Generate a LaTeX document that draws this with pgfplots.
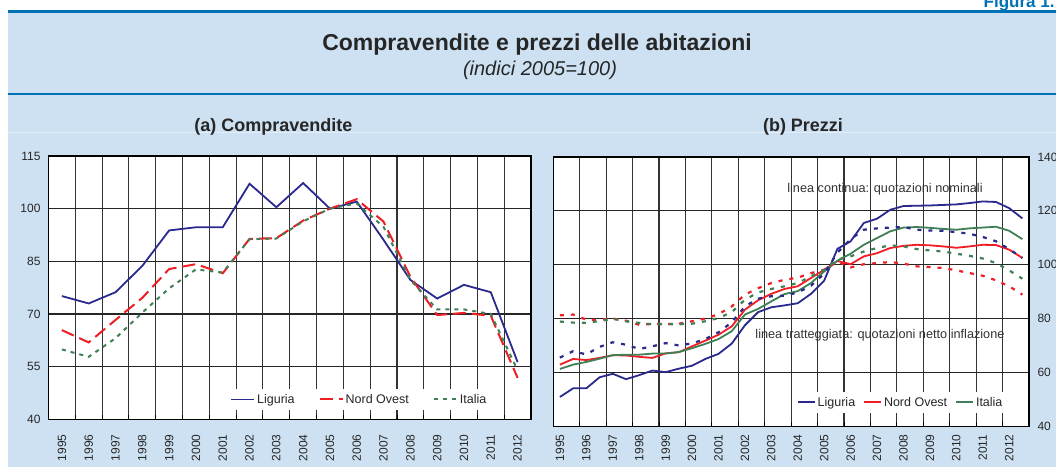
\documentclass[border=0pt]{standalone}
\usepackage{fontspec}
\setmainfont{Liberation Sans}
\usepackage{pgfplots}
\usepackage{pgfplotstable}
\pgfplotsset{compat=1.18}

\definecolor{bdiBlue}{RGB}{0,114,182}
\definecolor{bgBlue}{RGB}{206,225,242}
\definecolor{ligCol}{RGB}{42,42,142}
\definecolor{noCol}{RGB}{238,30,36}
\definecolor{itCol}{RGB}{64,128,86}

% (a) compravendite, annual
\pgfplotstableread{
anno lig  nord  ita
1995 75.1 65.4 59.9
1996 73.0 61.9 57.8
1997 76.2 68.3 63.1
1998 83.7 74.6 70.4
1999 93.8 82.8 77.3
2000 94.7 84.2 82.7
2001 94.7 81.6 81.8
2002 107.1 91.4 91.3
2003 100.4 91.6 91.5
2004 107.3 96.6 96.4
2005 100.0 100.0 100.0
2006 102.0 102.7 101.5
2007 91.1 96.3 94.8
2008 79.7 80.6 79.7
2009 74.4 69.7 71.3
2010 78.3 70.3 71.3
2011 76.2 69.5 70.0
2012 56.3 51.8 54.0
}\compr

% (b) prezzi, semiannual: N = nominali, R = netto inflazione
\pgfplotstableread{
x       ligN  ligR  nordN nordR itaN  itaR
1995.25 50.9  65.5  62.9  81.2  61.3  78.9
1995.75 54.1  67.9  65.0  81.5  62.9  78.5
1996.25 54.1  66.7  64.6  79.6  63.9  78.4
1996.75 58.2  69.5  65.4  79.6  65.1  79.1
1997.25 59.5  71.2  66.4  80.0  66.4  79.9
1997.75 57.5  70.3  66.3  79.2  66.6  79.0
1998.25 59.0  68.7  65.8  77.7  66.6  78.4
1998.75 60.7  69.7  65.4  78.0  67.0  77.9
1999.25 60.1  70.9  67.1  78.0  67.0  77.9
1999.75 61.4  70.0  67.5  78.1  67.6  77.9
2000.25 62.5  70.8  69.7  79.0  69.0  78.1
2000.75 65.0  72.4  71.8  80.0  70.6  79.0
2001.25 66.9  74.9  74.0  81.6  72.4  80.2
2001.75 70.7  78.6  77.1  84.5  75.3  82.4
2002.25 77.5  84.5  83.3  88.9  81.5  87.0
2002.75 82.4  87.4  86.8  91.3  83.6  89.7
2003.25 84.2  88.3  89.2  93.2  86.4  91.0
2003.75 84.9  88.5  91.0  94.4  89.1  92.0
2004.25 85.7  89.7  92.0  95.2  90.2  93.2
2004.75 89.2  92.2  95.1  96.9  93.2  95.7
2005.25 94.1  96.7  98.1  98.1  97.5  98.1
2005.75 105.9 104.5 101.4 101.2 101.5 101.9
2006.25 108.7 109.5 100.2 99.0  104.1 103.1
2006.75 115.5 113.0 103.1 100.2 107.4 104.9
2007.25 117.1 113.5 104.3 100.6 109.9 106.2
2007.75 120.4 113.8 106.2 101.0 112.4 107.2
2008.25 121.8 114.0 107.0 100.4 113.8 106.8
2008.75 121.9 113.0 107.4 99.4  114.0 105.8
2009.25 122.0 112.7 107.2 99.1  113.7 105.3
2009.75 122.2 112.6 106.8 98.8  113.3 104.9
2010.25 122.4 112.1 106.3 97.9  113.0 104.1
2010.75 122.9 111.5 106.8 96.9  113.5 103.3
2011.25 123.5 110.3 107.4 95.9  113.8 102.3
2011.75 123.3 108.7 107.3 94.2  114.1 100.6
2012.25 121.0 105.8 105.6 92.0  112.6 97.9
2012.75 117.2 102.5 102.5 88.9  109.5 94.8
}\prezzi

\pgfplotsset{
  panel/.style={
    scale only axis,
    axis background/.style={fill=white},
    axis line style={black, line width=1.2pt},
    tick align=inside, major tick length=0pt, minor tick length=4pt,
    xtick pos=bottom,
    minor tick style={black, line width=0.9pt},
    xminorgrids=true, ymajorgrids=true,
    minor grid style={black!80, line width=1.1pt},
    major grid style={black!85, line width=1.1pt},
    tick label style={font=\fontsize{12}{14}\selectfont, text=black!85},
    xticklabel style={rotate=90, anchor=east},
    /pgf/number format/1000 sep={},
    /pgf/number format/assume math mode=true,
    legend columns=3,
    legend style={draw=none, fill=white, inner xsep=5pt, inner ysep=3pt,
                  font=\fontsize{12.5}{15}\selectfont, text=black!85},
  },
}

\begin{document}
\begin{tikzpicture}
\path[use as bounding box] (0,0) rectangle (1056pt,467pt);
\clip (0,0) rectangle (1056pt,467pt);
\fill[white] (0,0) rectangle (1056pt,467pt);
\fill[bgBlue] (8pt,0) rectangle (1056pt,455pt);
\fill[bdiBlue] (8pt,454.3pt) rectangle (1056pt,457pt);
\fill[bdiBlue] (8pt,371.7pt) rectangle (1056pt,374.3pt);
\draw[white!45!bgBlue, line width=1pt] (8pt,335pt) -- (1056pt,335pt);

\node[anchor=base east, font=\bfseries\fontsize{17}{20}\selectfont, text=bdiBlue]
  at (1058pt,459pt) {Figura 1.};
\node[anchor=base, font=\bfseries\fontsize{23}{27}\selectfont, text=black!85]
  at (537pt,417pt) {Compravendite e prezzi delle abitazioni};
\node[anchor=base, font=\itshape\fontsize{20}{24}\selectfont, text=black!85]
  at (540pt,391.5pt) {(indici 2005=100)};
\node[anchor=base, font=\bfseries\fontsize{18}{21}\selectfont, text=black!85]
  at (273.5pt,336pt) {(a) Compravendite};
\node[anchor=base, font=\bfseries\fontsize{18}{21}\selectfont, text=black!85]
  at (803pt,336pt) {(b) Prezzi};

% ---------- (a) Compravendite ----------
\begin{axis}[panel,
  at={(48.5pt,47.7pt)}, anchor=south west,
  width=482.5pt, height=263.3pt,
  xmin=1994.5, xmax=2012.5, ymin=40, ymax=115,
  ytick={40,55,70,85,100,115},
  xtick={1995,1996,1997,1998,1999,2000,2001,2002,2003,2004,2005,2006,2007,2008,2009,2010,2011,2012},
  minor xtick={1994.5,1995.5,1996.5,1997.5,1998.5,1999.5,2000.5,2001.5,2002.5,2003.5,2004.5,2005.5,2006.5,2007.5,2008.5,2009.5,2010.5,2011.5,2012.5},
  xticklabel shift=11.5pt, yticklabel shift=4.5pt,
  legend image code/.code={\draw[#1] (0pt,0pt) -- (23pt,0pt);},
  legend style={at={(axis cs:2001.09,45.65)}, anchor=west,
    /tikz/every even column/.append style={column sep=22pt}},
]
  \addplot[ligCol, line width=1.8pt] table[x=anno, y=lig] {\compr};
  \addlegendentry{Liguria}
  \addplot[noCol, line width=2pt, dash pattern=on 13pt off 6pt] table[x=anno, y=nord] {\compr};
  \addlegendentry{Nord Ovest}
  \addplot[itCol, line width=2pt, dash pattern=on 4pt off 5pt] table[x=anno, y=ita] {\compr};
  \addlegendentry{Italia}
\end{axis}

% ---------- (b) Prezzi ----------
\begin{axis}[panel,
  at={(553.3pt,40.7pt)}, anchor=south west,
  width=475.7pt, height=269.3pt,
  xmin=1995, xmax=2013, ymin=40, ymax=140,
  ytick={40,60,80,100,120,140},
  ytick pos=right, yticklabel pos=right,
  xtick={1995.25,1996.25,1997.25,1998.25,1999.25,2000.25,2001.25,2002.25,2003.25,2004.25,2005.25,2006.25,2007.25,2008.25,2009.25,2010.25,2011.25,2012.25},
  xticklabels={1995,1996,1997,1998,1999,2000,2001,2002,2003,2004,2005,2006,2007,2008,2009,2010,2011,2012},
  minor xtick={1995,1996,1997,1998,1999,2000,2001,2002,2003,2004,2005,2006,2007,2008,2009,2010,2011,2012,2013},
  xticklabel shift=4.7pt, yticklabel shift=5pt,
  legend image code/.code={\draw[#1] (0pt,0pt) -- (17pt,0pt);},
  legend style={at={(axis cs:2004.02,48.9)}, anchor=west,
    /tikz/every even column/.append style={column sep=6pt}},
]
  \addplot[ligCol, line width=1.8pt] table[x=x, y=ligN] {\prezzi};
  \addlegendentry{Liguria}
  \addplot[noCol, line width=1.8pt] table[x=x, y=nordN] {\prezzi};
  \addlegendentry{Nord Ovest}
  \addplot[itCol, line width=1.8pt] table[x=x, y=itaN] {\prezzi};
  \addlegendentry{Italia}
  \addplot[forget plot, ligCol, line width=2.2pt, dash pattern=on 4pt off 7pt] table[x=x, y=ligR] {\prezzi};
  \addplot[forget plot, noCol, line width=2.2pt, dash pattern=on 4pt off 7pt] table[x=x, y=nordR] {\prezzi};
  \addplot[forget plot, itCol, line width=2.2pt, dash pattern=on 4pt off 7pt] table[x=x, y=itaR] {\prezzi};
  \node[font=\fontsize{12.7}{15}\selectfont, text=black!80] at (axis cs:2007.55,128.2)
    {linea continua: quotazioni nominali};
  \node[font=\fontsize{12.7}{15}\selectfont, text=black!80] at (axis cs:2007.36,73.7)
    {linea tratteggiata: quotazioni netto inflazione};
\end{axis}
\end{tikzpicture}
\end{document}
